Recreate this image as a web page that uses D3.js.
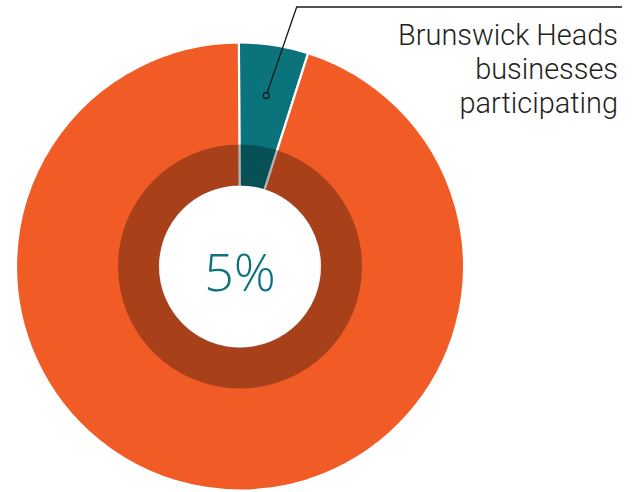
<!DOCTYPE html>
<html>
<head>
<meta charset="utf-8">
<script src="https://cdn.jsdelivr.net/npm/d3@7"></script>
<style>
  html, body { margin: 0; padding: 0; background: #fff; }
  svg { display: block; }
</style>
</head>
<body>
<svg id="chart" width="635" height="492"></svg>
<script>
// Share of Brunswick Heads businesses taking part
const categories = ["Brunswick Heads businesses participating", "Not participating"];
const values = [5, 95];
const labelLines = ["Brunswick Heads", "businesses", "participating"];
const centreLabel = "5%";

const colours = ["#0b737c", "#f15c26"];

const svg = d3.select("#chart");
const cx = 240, cy = 266.5;
const outerR = 224, innerR = 80, bandR = 122;

const pie = d3.pie().sort(null).startAngle(-0.005).endAngle(2 * Math.PI - 0.005);
const arcs = pie(values);

const arc = d3.arc().innerRadius(innerR).outerRadius(outerR);

const g = svg.append("g").attr("transform", `translate(${cx},${cy})`);

g.selectAll("path.slice")
  .data(arcs)
  .join("path")
  .attr("class", "slice")
  .attr("d", arc)
  .attr("fill", (d, i) => colours[i])
  .attr("stroke", "#fff")
  .attr("stroke-width", 2.2)
  .attr("stroke-linejoin", "miter");

// darker inner band laid over the slices
g.append("path")
  .attr("d", d3.arc().innerRadius(innerR).outerRadius(bandR).startAngle(0).endAngle(2 * Math.PI)())
  .attr("fill", "#000")
  .attr("fill-opacity", 0.3);

// clean edge for the centre hole
g.append("circle").attr("r", innerR + 0.2).attr("fill", "none")
  .attr("stroke", "#fff").attr("stroke-width", 1.2);

// centre value
g.append("text")
  .attr("x", 0)
  .attr("y", 24)
  .attr("text-anchor", "middle")
  .attr("font-family", "'Open Sans', sans-serif")
  .attr("font-weight", 300)
  .attr("font-size", 52)
  .attr("fill", "#0b737c")
  .text(centreLabel);

// leader from the highlighted slice to its label
const a0 = arcs[0];
const mid = (a0.startAngle + a0.endAngle) / 2;
const dotR = 173;
const dot = [cx + dotR * Math.sin(mid), cy - dotR * Math.cos(mid)];
const elbow = [296.7, 7];
const lineEnd = 622;

svg.append("path")
  .attr("d", d3.line()([dot, elbow, [lineEnd, elbow[1]]]))
  .attr("fill", "none")
  .attr("stroke", "#1a1a1a")
  .attr("stroke-width", 1.3);

svg.append("circle")
  .attr("cx", dot[0]).attr("cy", dot[1]).attr("r", 3)
  .attr("fill", "#0b737c")
  .attr("stroke", "#1a1a1a")
  .attr("stroke-width", 1.3);

const label = svg.append("text")
  .attr("text-anchor", "end")
  .attr("font-family", "Roboto, 'Liberation Sans', sans-serif")
  .attr("font-weight", 300)
  .attr("font-size", 28)
  .attr("fill", "#231f20");

label.selectAll("tspan")
  .data(labelLines)
  .join("tspan")
  .attr("x", 618)
  .attr("y", (d, i) => 45 + i * 34)
  .text(d => d);

// size the label so its widest line spans the text block
const first = label.select("tspan").node();
const w = first.getComputedTextLength();
label.attr("font-size", 28 * 220 / w);
</script>
</body>
</html>
